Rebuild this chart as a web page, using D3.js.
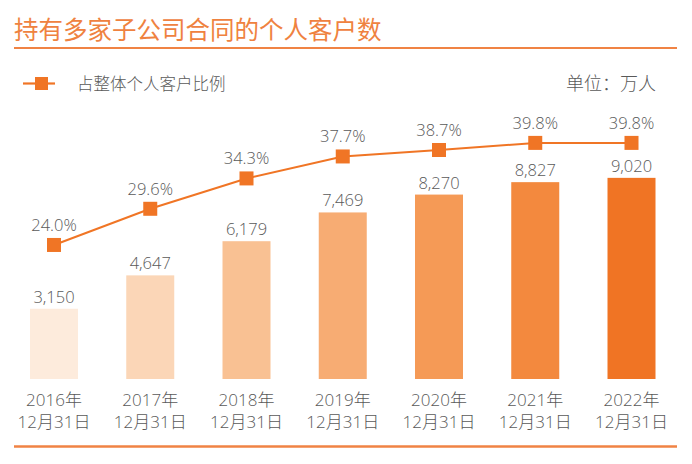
<!DOCTYPE html>
<html>
<head>
<meta charset="utf-8">
<script src="https://cdn.jsdelivr.net/npm/d3@7"></script>
<style>
html,body{margin:0;padding:0;background:#fff;}
svg{display:block;}
text{font-family:"Open Sans","Noto Sans CJK SC",sans-serif;font-weight:300;}
</style>
</head>
<body>
<svg id="chart" width="692" height="464"></svg>
<script>
const title = "持有多家子公司合同的个人客户数";
const legendLabel = "占整体个人客户比例";
const unitLabel = "单位：万人";
const years = ["2016年","2017年","2018年","2019年","2020年","2021年","2022年"];
const dateLine = "12月31日";
const customers = [3150, 4647, 6179, 7469, 8270, 8827, 9020];
const shares = [24.0, 29.6, 34.3, 37.7, 38.7, 39.8, 39.8];
const barColors = ["#FDEBDC","#FBD6B7","#F9C193","#F7AC73","#F59A56","#F3893E","#F07424"];

const orange = "#F07525";
const titleColor = "#EF8240";
const grey = "#595959";

const svg = d3.select("#chart");

const x = d3.scalePoint().domain(years).range([54, 631.5]);
const yBar = d3.scaleLinear().domain([0, 10000]).range([379, 156]);
const yPct = d3.scaleLinear().domain([0, 50]).range([400, 77]);
const barW = 48;

// Title
svg.append("text").attr("x", 14).attr("y", 39)
  .attr("font-size", 24.5).attr("fill", titleColor).style("font-weight", 400).text(title);
svg.append("line").attr("x1", 14).attr("x2", 677).attr("y1", 48).attr("y2", 48)
  .attr("stroke", "#F08344").attr("stroke-width", 2.2);

// Legend
svg.append("line").attr("x1", 23).attr("x2", 55).attr("y1", 83.5).attr("y2", 83.5)
  .attr("stroke", orange).attr("stroke-width", 2.2);
svg.append("rect").attr("x", 35).attr("y", 77).attr("width", 13).attr("height", 13).attr("fill", orange);
svg.append("text").attr("x", 77).attr("y", 90).attr("font-size", 16.5).attr("fill", grey).text(legendLabel);
svg.append("text").attr("x", 656).attr("y", 90).attr("text-anchor", "end")
  .attr("font-size", 18).attr("fill", grey).text(unitLabel);

// Bars
const data = years.map((y, i) => ({year: y, v: customers[i], p: shares[i], c: barColors[i]}));
svg.append("g").selectAll("rect").data(data).join("rect")
  .attr("x", d => x(d.year) - barW / 2)
  .attr("y", d => yBar(d.v))
  .attr("width", barW)
  .attr("height", d => yBar(0) - yBar(d.v))
  .attr("fill", d => d.c);

svg.append("g").selectAll("text").data(data).join("text")
  .attr("x", d => x(d.year))
  .attr("y", d => yBar(d.v) - 6)
  .attr("text-anchor", "middle").attr("font-size", 16.5).attr("fill", grey)
  .text(d => d3.format(",")(d.v));

// Line
const line = d3.line().x(d => x(d.year)).y(d => yPct(d.p));
svg.append("path").datum(data).attr("d", line)
  .attr("fill", "none").attr("stroke", orange).attr("stroke-width", 2);
const ms = 14;
svg.append("g").selectAll("rect").data(data).join("rect")
  .attr("x", d => x(d.year) - ms / 2).attr("y", d => yPct(d.p) - ms / 2)
  .attr("width", ms).attr("height", ms).attr("fill", orange);
svg.append("g").selectAll("text").data(data).join("text")
  .attr("x", d => x(d.year))
  .attr("y", d => yPct(d.p) - 14)
  .attr("text-anchor", "middle").attr("font-size", 16.5).attr("fill", grey)
  .text(d => d.p.toFixed(1) + "%");

// Category labels
const cat = svg.append("g").selectAll("text").data(data).join("text")
  .attr("text-anchor", "middle").attr("font-size", 17).attr("fill", grey);
cat.append("tspan").attr("x", d => x(d.year)).attr("y", 406).text(d => d.year);
cat.append("tspan").attr("x", d => x(d.year)).attr("y", 428).text(dateLine);

// Bottom line
svg.append("line").attr("x1", 14).attr("x2", 677).attr("y1", 446.5).attr("y2", 446.5)
  .attr("stroke", "#F08344").attr("stroke-width", 2.5);
</script>
</body>
</html>
